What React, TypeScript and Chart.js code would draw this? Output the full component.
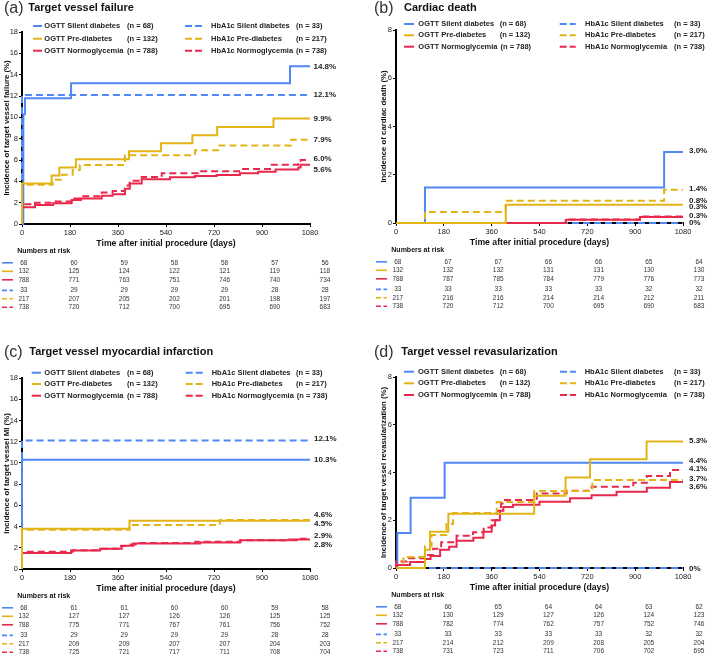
import React, { useEffect, useRef } from 'react';
import { Chart, registerables } from 'chart.js';

Chart.register(...registerables);

type Pt = [number, number];

const BLUE = '#4F87F5';
const GOLD = '#E3B417';
const RED = '#E8284D';
const FONT = '"Liberation Sans", Arial, Helvetica, sans-serif';

// ---------- shared labels ----------
const groupNames = [
  'OGTT Silent diabetes',
  'OGTT Pre-diabetes',
  'OGTT Normoglycemia',
  'HbA1c Silent diabetes',
  'HbA1c Pre-diabetes',
  'HbA1c Normoglycemia',
];
const groupN = ['(n = 68)', '(n = 132)', '(n = 788)', '(n = 33)', '(n = 217)', '(n = 738)'];
const groupColors = [BLUE, GOLD, RED, BLUE, GOLD, RED];
const groupDashed = [false, false, false, true, true, true];
const xTickValues = [0, 180, 360, 540, 720, 900, 1080];
const xTitle = 'Time after initial procedure (days)';
const riskTitle = 'Numbers at risk';

// ---------- (a) Target vessel failure ----------
const tvfOgttSD: Pt[] = [[0, 0], [5, 10.3], [11, 11.8], [184, 13.2], [1005, 14.8], [1080, 14.8]];
const tvfOgttPD: Pt[] = [[0, 0], [0, 3.8], [111, 4.55], [140, 5.3], [202, 6.06], [401, 6.82], [521, 7.58], [639, 8.33], [732, 9.09], [943, 9.9], [1080, 9.9]];
const tvfOgttNG: Pt[] = [[0, 0], [0, 1.56], [49, 1.78], [117, 1.94], [186, 2.25], [221, 2.4], [299, 2.65], [340, 2.8], [386, 3.3], [404, 3.8], [449, 4.2], [555, 4.38], [649, 4.5], [730, 4.6], [817, 4.75], [886, 4.9], [951, 5.1], [1036, 5.3], [1045, 5.55], [1080, 5.55]];
const tvfHbSD: Pt[] = [[0, 0], [0, 12.1], [1080, 12.1]];
const tvfHbPD: Pt[] = [[0, 0], [0, 3.69], [115, 4.15], [150, 4.61], [190, 5.07], [217, 5.53], [386, 6.45], [649, 6.91], [740, 7.37], [1009, 7.9], [1080, 7.9]];
const tvfHbNG: Pt[] = [[0, 0], [0, 1.84], [49, 2.0], [117, 2.1], [186, 2.4], [221, 2.6], [299, 2.95], [340, 3.1], [386, 3.6], [404, 4.06], [449, 4.4], [524, 4.75], [661, 4.95], [824, 5.15], [930, 5.55], [1036, 5.75], [1045, 6.0], [1080, 6.0]];
const tvfRisk = [
  [68, 60, 59, 58, 58, 57, 56],
  [132, 125, 124, 122, 121, 119, 118],
  [788, 771, 763, 751, 746, 740, 734],
  [33, 29, 29, 29, 29, 28, 28],
  [217, 207, 205, 202, 201, 198, 197],
  [738, 720, 712, 700, 695, 690, 683],
];
const tvfEndLabels: [string, number, number][] = [
  ['14.8%', 0, 0.5], ['12.1%', 3, 0], ['9.9%', 1, 0], ['7.9%', 4, 0.5], ['6.0%', 5, -1], ['5.6%', 2, 4.5],
];

// ---------- (b) Cardiac death ----------
const cdOgttSD: Pt[] = [[0, 0], [109, 1.47], [1009, 2.94], [1080, 2.94]];
const cdOgttPD: Pt[] = [[0, 0], [413, 0.76], [1080, 0.76]];
const cdOgttNG: Pt[] = [[0, 0], [639, 0.13], [918, 0.25], [1080, 0.25]];
const cdHbSD: Pt[] = [[0, 0], [1080, 0]];
const cdHbPD: Pt[] = [[0, 0], [109, 0.46], [413, 0.92], [1009, 1.38], [1080, 1.38]];
const cdHbNG: Pt[] = [[0, 0], [639, 0.14], [918, 0.27], [1080, 0.27]];
const cdRisk = [
  [68, 67, 67, 66, 66, 65, 64],
  [132, 132, 132, 131, 131, 130, 130],
  [788, 787, 785, 784, 779, 776, 773],
  [33, 33, 33, 33, 33, 32, 32],
  [217, 216, 216, 214, 214, 212, 211],
  [738, 720, 712, 700, 695, 690, 683],
];
const cdEndLabels: [string, number, number][] = [
  ['3.0%', 0, -1], ['1.4%', 4, -0.5], ['0.8%', 1, -4], ['0.3%', 5, -9.8], ['0.3%', 2, -1], ['0%', 3, 0],
];

// ---------- (c) Target vessel myocardial infarction ----------
const miOgttSD: Pt[] = [[0, 0], [0, 10.3], [1080, 10.3]];
const miOgttPD: Pt[] = [[0, 0], [0, 3.79], [403, 4.55], [1080, 4.55]];
const miOgttNG: Pt[] = [[0, 0], [0, 1.5], [184, 1.75], [293, 1.9], [374, 2.2], [417, 2.4], [668, 2.5], [818, 2.7], [1000, 2.79], [1080, 2.79]];
const miHbSD: Pt[] = [[0, 0], [0, 12.1], [1080, 12.1]];
const miHbPD: Pt[] = [[0, 0], [0, 3.69], [403, 4.15], [742, 4.61], [1080, 4.61]];
const miHbNG: Pt[] = [[0, 0], [0, 1.63], [190, 1.76], [300, 1.9], [365, 2.17], [400, 2.3], [430, 2.44], [650, 2.57], [820, 2.71], [1030, 2.85], [1080, 2.85]];
const miRisk = [
  [68, 61, 61, 60, 60, 59, 58],
  [132, 127, 127, 126, 126, 125, 125],
  [788, 775, 771, 767, 761, 756, 752],
  [33, 29, 29, 29, 29, 28, 28],
  [217, 209, 209, 207, 207, 204, 203],
  [738, 725, 721, 717, 711, 708, 704],
];
const miEndLabels: [string, number, number][] = [
  ['12.1%', 3, -1.5], ['10.3%', 0, 0], ['4.6%', 4, -5], ['4.5%', 1, 2.8], ['2.9%', 5, -3], ['2.8%', 2, 5.6],
];

// ---------- (d) Target vessel revasularization ----------
const tvrOgttSD: Pt[] = [[0, 0], [5, 1.47], [55, 2.94], [183, 4.41], [1080, 4.41]];
const tvrOgttPD: Pt[] = [[0, 0], [109, 0.76], [128, 1.52], [197, 2.27], [520, 3.03], [638, 3.79], [730, 4.55], [943, 5.3], [1080, 5.3]];
const tvrOgttNG: Pt[] = [[0, 0], [0, 0.13], [53, 0.25], [109, 0.38], [130, 0.5], [166, 0.76], [200, 0.89], [228, 1.14], [291, 1.27], [329, 1.52], [360, 1.78], [373, 2.0], [391, 2.4], [404, 2.55], [440, 2.65], [540, 2.78], [655, 2.92], [736, 3.05], [830, 3.19], [944, 3.36], [1031, 3.6], [1080, 3.6]];
const tvrHbSD: Pt[] = [[0, 0], [1080, 0]];
const tvrHbPD: Pt[] = [[0, 0], [28, 0.46], [109, 0.92], [134, 1.38], [190, 1.84], [215, 2.3], [379, 2.76], [520, 3.23], [739, 3.69], [1080, 3.69]];
const tvrHbNG: Pt[] = [[0, 0], [0, 0.27], [40, 0.41], [109, 0.54], [140, 0.81], [170, 1.08], [228, 1.35], [290, 1.5], [330, 1.7], [360, 2.0], [380, 2.4], [395, 2.7], [410, 2.85], [530, 3.12], [642, 3.24], [736, 3.4], [893, 3.57], [944, 3.85], [1031, 4.1], [1080, 4.1]];
const tvrRisk = [
  [68, 66, 65, 64, 64, 63, 62],
  [132, 130, 129, 127, 126, 124, 123],
  [788, 782, 774, 762, 757, 752, 746],
  [33, 33, 33, 33, 33, 32, 32],
  [217, 214, 212, 209, 208, 205, 204],
  [738, 731, 723, 711, 706, 702, 695],
];
const tvrEndLabels: [string, number, number][] = [
  ['5.3%', 1, -1], ['4.4%', 0, -1.5], ['4.1%', 5, -1], ['3.7%', 4, -0.8], ['3.6%', 2, 4.7], ['0%', 3, 0.5],
];

// ---------- layouts (positions / sizes only) ----------
const layoutA = { left: 0, top: 0, w: 354, h: 345, padL: 0, caT: 32, caB: 224, caR: 310, yTitlePad: 2, letterX: 4, titleX: 28.3, headY: 7.5, legY: [26, 38.7, 50.7], legX: { l1: 33, l2: 42, t: 44.3, n: 127, r1: 185, r2: 203, rt: 211, rn: 296 }, endDx: 3.5 };
const layoutB = { left: 354, top: 0, w: 355, h: 345, padL: 20, caT: 30, caB: 223, caR: 329, yTitlePad: 5, letterX: 20, titleX: 50, headY: 7.5, legY: [24, 35.3, 46.7], legX: { l1: 50, l2: 60, t: 64.3, n: 145.7, r1: 205.7, r2: 221.7, rt: 231, rn: 320 }, endDx: 6 };
const layoutC = { left: 0, top: 345, w: 354, h: 313, padL: 0, caT: 33, caB: 224, caR: 310, yTitlePad: 2, letterX: 4, titleX: 29.3, headY: 6.7, legY: [27.7, 39, 50.7], legX: { l1: 31.7, l2: 41, t: 44.3, n: 127, r1: 185.7, r2: 204, rt: 211.7, rn: 296 }, endDx: 4 };
const layoutD = { left: 354, top: 345, w: 355, h: 313, padL: 20, caT: 32, caB: 223, caR: 329, yTitlePad: 5, letterX: 20, titleX: 47.3, headY: 6.7, legY: [26.7, 38.3, 50], legX: { l1: 50, l2: 60, t: 64, n: 145.7, r1: 206, r2: 222, rt: 230.7, rn: 320 }, endDx: 6 };

const panels = [
  { key: 'a', letter: '(a)', title: 'Target vessel failure', yTitle: 'Incidence of target vessel failure (%)', yMax: 18, series: [tvfOgttSD, tvfOgttPD, tvfOgttNG, tvfHbSD, tvfHbPD, tvfHbNG], risk: tvfRisk, endLabels: tvfEndLabels, layout: layoutA },
  { key: 'b', letter: '(b)', title: 'Cardiac death', yTitle: 'Incidence of cardiac death (%)', yMax: 8, series: [cdOgttSD, cdOgttPD, cdOgttNG, cdHbSD, cdHbPD, cdHbNG], risk: cdRisk, endLabels: cdEndLabels, layout: layoutB },
  { key: 'c', letter: '(c)', title: 'Target vessel myocardial infarction', yTitle: 'Incidence of target vessel MI (%)', yMax: 18, series: [miOgttSD, miOgttPD, miOgttNG, miHbSD, miHbPD, miHbNG], risk: miRisk, endLabels: miEndLabels, layout: layoutC },
  { key: 'd', letter: '(d)', title: 'Target vessel revasularization', yTitle: 'Incidence of target vessel revasularization (%)', yMax: 8, series: [tvrOgttSD, tvrOgttPD, tvrOgttNG, tvrHbSD, tvrHbPD, tvrHbNG], risk: tvrRisk, endLabels: tvrEndLabels, layout: layoutD },
];

const rowDy = [38.8, 47.3, 55.8, 66.4, 74.8, 83.2];
const drawOrder = [1, 4, 2, 5, 0, 3];

function makeOverlay(p: any) {
  return {
    id: 'overlay_' + p.key,
    afterDraw(chart: any) {
      const ctx = chart.ctx as CanvasRenderingContext2D;
      const L = p.layout;
      const ca = chart.chartArea;
      const ys = chart.scales.y;
      ctx.save();
      ctx.textBaseline = 'middle';
      ctx.textAlign = 'left';
      // header
      ctx.fillStyle = '#333';
      ctx.font = `16px ${FONT}`;
      ctx.fillText(p.letter, L.letterX, L.headY + 1);
      ctx.fillStyle = '#111';
      ctx.font = `bold 11px ${FONT}`;
      ctx.fillText(p.title, L.titleX, L.headY);
      // legend
      ctx.font = `bold 7.5px ${FONT}`;
      groupNames.forEach((name, i) => {
        const col = i < 3 ? 0 : 1;
        const y = L.legY[i % 3];
        const x1 = col ? L.legX.r1 : L.legX.l1;
        const x2 = col ? L.legX.r2 : L.legX.l2;
        ctx.strokeStyle = groupColors[i];
        ctx.lineWidth = 2;
        ctx.setLineDash(col ? [7, 3] : []);
        ctx.beginPath();
        ctx.moveTo(x1, y);
        ctx.lineTo(x2, y);
        ctx.stroke();
        ctx.setLineDash([]);
        const tx = col ? L.legX.rt : L.legX.t;
        const nx = col ? L.legX.rn : L.legX.n;
        ctx.fillStyle = '#222';
        ctx.fillText(name, tx, y);
        const w = ctx.measureText(name).width;
        ctx.fillText(groupN[i], Math.max(nx, tx + w + 3), y);
      });
      // end labels
      ctx.font = `bold 8px ${FONT}`;
      ctx.fillStyle = '#222';
      p.endLabels.forEach(([text, s, dy]: [string, number, number]) => {
        const ser = p.series[s];
        const last = ser[ser.length - 1][1];
        ctx.fillText(text, ca.right + L.endDx, ys.getPixelForValue(last) + dy);
      });
      // numbers at risk
      ctx.font = `bold 7px ${FONT}`;
      ctx.fillStyle = '#111';
      ctx.fillText(riskTitle, ca.left - 4.7, ca.bottom + 27);
      ctx.font = `6.5px ${FONT}`;
      ctx.textAlign = 'center';
      p.risk.forEach((row: number[], i: number) => {
        const y = ca.bottom + rowDy[i];
        ctx.strokeStyle = groupColors[i];
        ctx.lineWidth = 1.6;
        ctx.setLineDash(i >= 3 ? [5, 2.5] : []);
        ctx.beginPath();
        ctx.moveTo(ca.left - 20, y);
        ctx.lineTo(ca.left - 9, y);
        ctx.stroke();
        ctx.setLineDash([]);
        ctx.fillStyle = '#333';
        row.forEach((v, j) => {
          ctx.fillText(String(v), ca.left + 1.8 + j * 50.2, y);
        });
      });
      ctx.restore();
    },
  };
}

function Panel({ p }: { p: any }) {
  const ref = useRef<HTMLCanvasElement>(null);
  const L = p.layout;
  useEffect(() => {
    const chart = new Chart(ref.current as HTMLCanvasElement, {
      type: 'line',
      data: {
        datasets: drawOrder.map((i) => ({
          label: groupNames[i],
          data: p.series[i].map(([x, y]: Pt) => ({ x, y })),
          borderColor: groupColors[i],
          backgroundColor: groupColors[i],
          borderWidth: 2,
          borderDash: groupDashed[i] ? [7, 4] : [],
          borderCapStyle: 'butt',
          borderJoinStyle: 'miter',
          stepped: 'before',
          pointRadius: 0,
          fill: false,
          tension: 0,
          clip: false,
        })),
      } as any,
      options: {
        animation: false,
        responsive: false,
        maintainAspectRatio: false,
        events: [],
        layout: {
          padding: { left: L.padL, right: L.w - L.caR, top: L.caT, bottom: L.h - L.caB - 25 },
        },
        plugins: { legend: { display: false }, tooltip: { enabled: false }, title: { display: false } },
        scales: {
          x: {
            type: 'linear',
            min: 0,
            max: 1080,
            afterBuildTicks: (s: any) => {
              s.ticks = xTickValues.map((v) => ({ value: v }));
            },
            afterFit: (s: any) => {
              s.height = 25;
            },
            ticks: {
              font: { family: FONT, size: 7.5 },
              color: '#222',
              padding: 1,
              maxRotation: 0,
              autoSkip: false,
              callback: (v: any) => String(v),
            },
            grid: { display: true, drawOnChartArea: false, drawTicks: true, tickLength: 3, color: '#000', lineWidth: 1 },
            border: { display: true, color: '#000', width: 2 },
            title: { display: true, text: xTitle, font: { family: FONT, size: 8.7, weight: 'bold' }, color: '#111', padding: 0 },
          },
          y: {
            type: 'linear',
            min: 0,
            max: p.yMax,
            afterFit: (s: any) => {
              s.width = 22;
            },
            ticks: { stepSize: 2, font: { family: FONT, size: 7.5 }, color: '#222', padding: 1, callback: (v: any) => String(v) },
            grid: { display: true, drawOnChartArea: false, drawTicks: true, tickLength: 3, color: '#000', lineWidth: 1 },
            border: { display: true, color: '#000', width: 2 },
            title: { display: true, text: p.yTitle, font: { family: FONT, size: 7.8, weight: 'bold' }, color: '#111', padding: { top: L.yTitlePad, bottom: 0 } },
          },
        },
      } as any,
      plugins: [makeOverlay(p)],
    });
    return () => chart.destroy();
  }, [p]);
  return (
    <canvas
      ref={ref}
      width={L.w}
      height={L.h}
      style={{ position: 'absolute', left: L.left, top: L.top, width: L.w, height: L.h }}
    />
  );
}

export default function App() {
  return (
    <div style={{ position: 'fixed', left: 0, top: 0, width: 709, height: 658, background: '#fff', overflow: 'hidden' }}>
      {panels.map((p) => (
        <Panel key={p.key} p={p} />
      ))}
    </div>
  );
}
